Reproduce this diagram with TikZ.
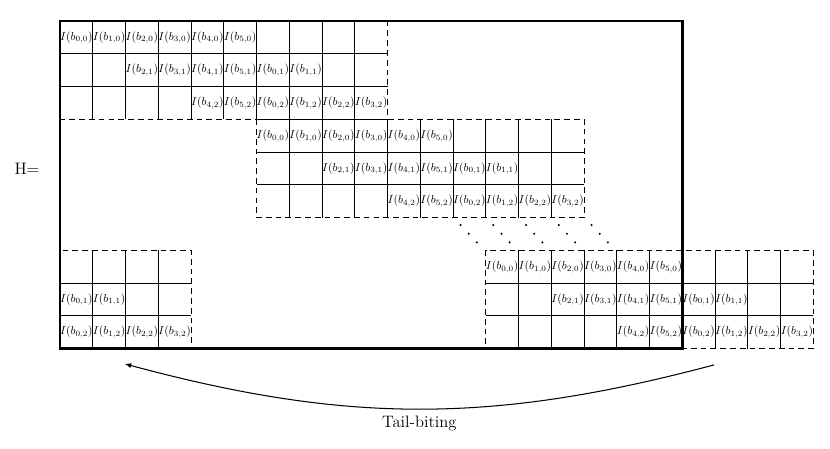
\documentclass[tikz,border=0pt]{standalone}
\usepackage{xcolor}
\usepackage{amsmath}
\usepackage{amssymb}
\begin{document}
\begin{tikzpicture}[
  cell/.style={inner sep=0pt, font=\normalsize},
  gridline/.style={line width=0.8pt},
  blockedge/.style={line width=0.8pt, dash pattern=on 5pt off 3.5pt},
  frame/.style={line width=2.2pt}]
\useasboundingbox (-1.832,0.641) rectangle (23.51,-13.04);

% the three shifted blocks
\foreach \ox/\oy/\name in {0/0/A, 6/-3/B, 13/-7/C} {
  \draw[gridline] (\ox,\oy-1) -- (\ox+10,\oy-1) (\ox,\oy-2) -- (\ox+10,\oy-2);
  \foreach \c in {1,...,9} \draw[gridline] (\ox+\c,\oy) -- (\ox+\c,\oy-3);
  \draw[blockedge] (\ox,\oy) rectangle (\ox+10,\oy-3);
  \foreach \r in {0,1,2} {
    \foreach \d in {0,...,5} {
      \pgfmathtruncatemacro\c{2*\r+\d}
      \pgfmathtruncatemacro\i{mod(\c,6)}
      \node[cell] (\name-\c-\r) at (\ox+\c+0.5,\oy-\r-0.5) {$I(b_{\i,\r})$};
    }
  }
}

% wrapped part of the last block
\draw[gridline] (0,-8) -- (4,-8) (0,-9) -- (4,-9);
\foreach \c in {1,2,3} \draw[gridline] (\c,-7) -- (\c,-10);
\draw[blockedge] (0,-7) rectangle (4,-10);
\node[cell] (W-0-1) at (0.5,-8.5) {$I(b_{0,1})$};
\node[cell] (W-1-1) at (1.5,-8.5) {$I(b_{1,1})$};
\foreach \c in {0,...,3}
  \node[cell] (W-\c-2) at (\c+0.5,-9.5) {$I(b_{\c,2})$};

% dots
\foreach \j in {0,...,4}
  \foreach \k in {0,1,2}
    \fill (12.23+\j+0.25*\k,-6.23-0.265*\k) circle (1pt);

\draw[frame] (0,0) rectangle (19,-10);

\node[font=\Large] (H) at (-1.01,-4.52) {H=};

\coordinate (tbstart) at (19.97,-10.5);
\coordinate (tbend) at (1.98,-10.47);
\draw[-latex, line width=0.9pt] (tbstart) to[bend left=15]
  node[midway, below=2pt, font=\Large] (tb) {Tail-biting} (tbend);
\end{tikzpicture}
\end{document}
